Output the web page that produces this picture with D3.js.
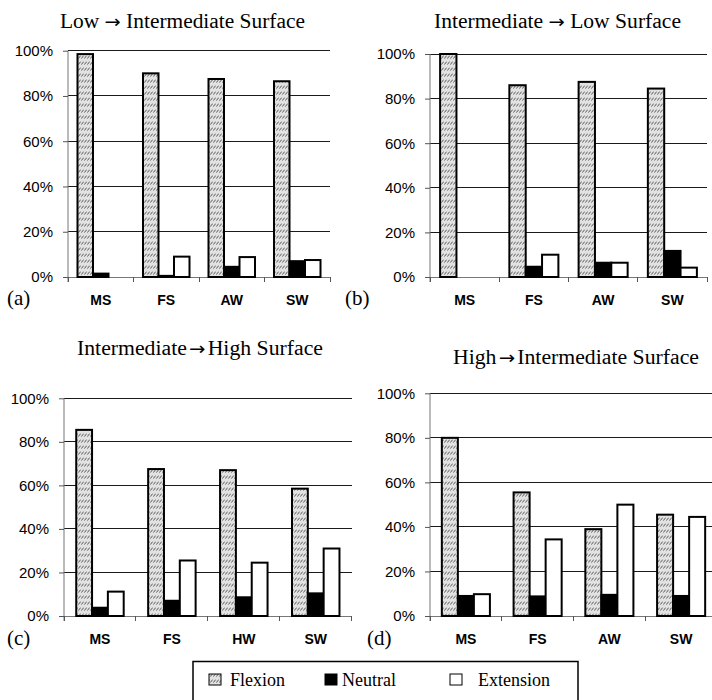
<!DOCTYPE html>
<html>
<head>
<meta charset="utf-8">
<script src="https://cdn.jsdelivr.net/npm/d3@7"></script>
<style>
  html, body { margin: 0; padding: 0; background: #fff; }
  svg { display: block; }
  .title, .letter, .legend-text { font-family: "Liberation Serif", "Times New Roman", serif; fill: #000; }
  .arrow { font-family: "DejaVu Sans", sans-serif; }
  .ytick, .xcat { font-family: "Liberation Sans", Arial, sans-serif; fill: #000; }
</style>
</head>
<body>
<svg id="chart" width="712" height="700"></svg>
<script>
// Posture distribution per transition and gait type (percent of trials)
const panelTitles = [
  "Low \u2192 Intermediate Surface",
  "Intermediate \u2192 Low Surface",
  "Intermediate\u2192High Surface",
  "High\u2192Intermediate Surface"
];
const panelLetters = ["(a)", "(b)", "(c)", "(d)"];
const categoriesA = ["MS", "FS", "AW", "SW"];
const categoriesB = ["MS", "FS", "AW", "SW"];
const categoriesC = ["MS", "FS", "HW", "SW"];
const categoriesD = ["MS", "FS", "AW", "SW"];
const seriesNames = ["Flexion", "Neutral", "Extension"];

const flexionA = [98.5, 90, 87.5, 86.5];
const neutralA = [1.5, 0.5, 4.5, 7];
const extensionA = [0, 9, 8.8, 7.5];

const flexionB = [100, 86, 87.5, 84.5];
const neutralB = [0, 4.6, 6.4, 11.7];
const extensionB = [0, 10, 6.4, 4.2];

const flexionC = [85.5, 67.5, 67, 58.5];
const neutralC = [3.8, 7, 8.6, 10.4];
const extensionC = [11.2, 25.5, 24.5, 31];

const flexionD = [80, 55.5, 39, 45.5];
const neutralD = [9, 8.8, 9.5, 9];
const extensionD = [9.8, 34.4, 50, 44.5];

const yTicks = [0, 20, 40, 60, 80, 100];

const panelData = [
  { cats: categoriesA, series: [flexionA, neutralA, extensionA] },
  { cats: categoriesB, series: [flexionB, neutralB, extensionB] },
  { cats: categoriesC, series: [flexionC, neutralC, extensionC] },
  { cats: categoriesD, series: [flexionD, neutralD, extensionD] }
];

// Plot frames for the four panels (pixel layout); tw = title width, gap = extra space round the arrow
const frames = [
  { x0: 68,  x1: 330,   yTop: 50.7,  yBot: 277, pad: 0.145, tx: 60,  ty: 28,  tw: 245, gap: 0, lx: 7,   ly: 305 },
  { x0: 430, x1: 707,   yTop: 54,    yBot: 277, pad: 0.146, tx: 434, ty: 28,  tw: 247, gap: 0, lx: 345, ly: 305 },
  { x0: 64,  x1: 351.7, yTop: 398.3, yBot: 616, pad: 0.17,  tx: 77,  ty: 355, tw: 246, gap: 2, lx: 7,   ly: 645 },
  { x0: 430, x1: 717,   yTop: 393.3, yBot: 616, pad: 0.165, tx: 453, ty: 364, tw: 246, gap: 2, lx: 367, ly: 645 }
];

const svg = d3.select("#chart");
const defs = svg.append("defs");

// Hatched fill for the flexion bars
const pat = defs.append("pattern")
  .attr("id", "hatch")
  .attr("patternUnits", "userSpaceOnUse")
  .attr("width", 3).attr("height", 6);
pat.append("rect").attr("width", 3).attr("height", 6).attr("fill", "#e2e2e2");
pat.append("line")
  .attr("x1", 0.3).attr("y1", 4.6).attr("x2", 2.7).attr("y2", 1.6)
  .attr("stroke", "#4a4a4a").attr("stroke-width", 0.9);

const fills = ["url(#hatch)", "#000", "#fff"];

panelData.forEach((pd, i) => {
  const f = frames[i];
  const g = svg.append("g");

  const x = d3.scaleBand().domain(pd.cats).range([f.x0, f.x1]).padding(0);
  const inner = d3.scaleBand().domain(seriesNames)
    .range([x.bandwidth() * f.pad, x.bandwidth() * (1 - f.pad)]).padding(0);
  const y = d3.scaleLinear().domain([0, 100]).range([f.yBot, f.yTop]);

  // gridlines
  g.selectAll(".grid").data(yTicks.filter(t => t > 0)).join("line")
    .attr("x1", f.x0).attr("x2", f.x1)
    .attr("y1", d => y(d)).attr("y2", d => y(d))
    .attr("stroke", "#1a1a1a").attr("stroke-width", 1)
    .attr("shape-rendering", "crispEdges");

  // y axis
  const yAxis = d3.axisLeft(y).tickValues(yTicks).tickSize(5).tickPadding(10)
    .tickFormat(d => d + "%");
  const ya = g.append("g").attr("transform", `translate(${f.x0},0)`).call(yAxis);
  ya.select(".domain").attr("stroke", "#777").attr("d", `M-0,${f.yTop}V${f.yBot + 5}`);
  ya.selectAll(".tick line").attr("stroke", "#555");
  ya.selectAll("text").attr("class", "ytick")
    .style("font-size", "15px").attr("fill", "#000");

  // x axis with ticks on category boundaries
  g.append("line").attr("x1", f.x0).attr("x2", f.x1)
    .attr("y1", f.yBot).attr("y2", f.yBot)
    .attr("stroke", "#777").attr("stroke-width", 1).attr("shape-rendering", "crispEdges");
  const bounds = pd.cats.map(c => x(c)).concat([f.x1]);
  g.selectAll(".xt").data(bounds).join("line")
    .attr("x1", d => d).attr("x2", d => d)
    .attr("y1", f.yBot).attr("y2", f.yBot + 5)
    .attr("stroke", "#555").attr("shape-rendering", "crispEdges");

  g.selectAll(".xcat").data(pd.cats).join("text")
    .attr("class", "xcat")
    .attr("x", d => x(d) + x.bandwidth() / 2)
    .attr("y", f.yBot + 28)
    .attr("text-anchor", "middle")
    .style("font-size", "14px").style("font-weight", "bold")
    .text(d => d);

  // bars
  const bars = [];
  pd.series.forEach((vals, s) => {
    vals.forEach((v, k) => bars.push({ cat: pd.cats[k], s, v }));
  });
  g.selectAll(".bar").data(bars.filter(b => b.v > 0)).join("rect")
    .attr("x", d => x(d.cat) + inner(seriesNames[d.s]))
    .attr("width", inner.bandwidth())
    .attr("y", d => y(d.v))
    .attr("height", d => y(0) - y(d.v))
    .attr("fill", d => fills[d.s])
    .attr("stroke", "#000").attr("stroke-width", 2);

  // title (arrow set in a font with a full-width arrow glyph) and panel letter
  const parts = panelTitles[i].split("\u2192");
  const t = svg.append("text").attr("class", "title")
    .attr("x", f.tx).attr("y", f.ty)
    .style("font-size", "20px");
  t.append("tspan").text(parts[0]);
  t.append("tspan").attr("class", "arrow").attr("dx", f.gap)
    .style("font-size", "18px").text("\u2192");
  t.append("tspan").attr("dx", f.gap).text(parts[1]);
  t.attr("textLength", f.tw).attr("lengthAdjust", "spacingAndGlyphs");

  svg.append("text").attr("class", "letter")
    .attr("x", f.lx).attr("y", f.ly)
    .style("font-size", "21px").text(panelLetters[i]);
});

// Legend
const lg = svg.append("g");
lg.append("rect").attr("x", 193).attr("y", 661.5).attr("width", 385).attr("height", 60)
  .attr("fill", "none").attr("stroke", "#000").attr("stroke-width", 1.5);
const legendX = [209, 325, 450];
const legendTextX = [230, 342, 478];
seriesNames.forEach((name, s) => {
  lg.append("rect").attr("x", legendX[s]).attr("y", 674).attr("width", 12).attr("height", 11)
    .attr("fill", fills[s]).attr("stroke", "#000").attr("stroke-width", 1);
  lg.append("text").attr("class", "legend-text")
    .attr("x", legendTextX[s]).attr("y", 686)
    .style("font-size", "18px").text(name);
});
</script>
</body>
</html>
